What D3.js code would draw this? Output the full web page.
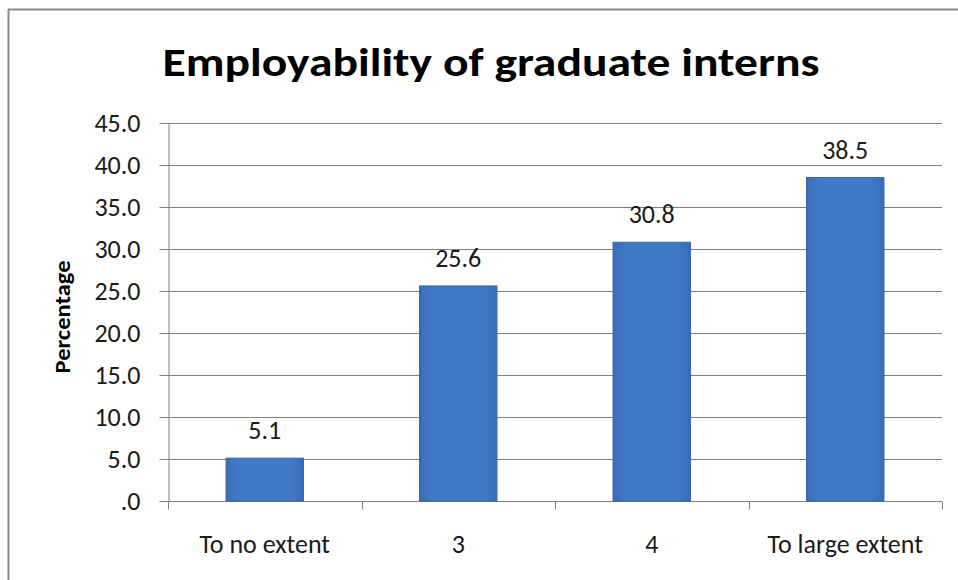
<!DOCTYPE html>
<html><head><meta charset="utf-8">
<script src="https://cdn.jsdelivr.net/npm/d3@7"></script>
<style>body{margin:0;background:#fff}svg{display:block}</style>
</head><body>
<svg id="c" width="958" height="580"></svg>
<script>
const categories = ["To no extent", "3", "4", "To large extent"];
const values = [5.1, 25.6, 30.8, 38.5];
const yTicks = [0, 5, 10, 15, 20, 25, 30, 35, 40, 45];
const title = "Employability of graduate interns";
const yTitle = "Percentage";

const svg = d3.select("#c");
const m = {l:168, r:942, t:123, b:501};
const fontFamily = "Carlito, Calibri, Lato, 'Open Sans', sans-serif";
const fs = 26;

// frame (top and left edges)
svg.append("line").attr("x1",8).attr("x2",958).attr("y1",9.5).attr("y2",9.5).attr("stroke","#8a8a8a").attr("stroke-width",2);
svg.append("line").attr("x1",8.5).attr("x2",8.5).attr("y1",9).attr("y2",580).attr("stroke","#8a8a8a").attr("stroke-width",2);

const x = d3.scaleBand().domain(categories).range([m.l, m.r]).paddingInner(0.6).paddingOuter(0.3);
const y = d3.scaleLinear().domain([0,45]).range([m.b, m.t]);

// gridlines
svg.append("g").selectAll("line").data(yTicks.filter(d=>d>0)).join("line")
  .attr("x1",m.l).attr("x2",m.r).attr("y1",d=>Math.round(y(d))+0.5).attr("y2",d=>Math.round(y(d))+0.5)
  .attr("stroke","#7f7f7f").attr("stroke-width",1);

// y axis
const yAxis = d3.axisLeft(y).tickValues(yTicks).tickSize(9).tickSizeOuter(0)
  .tickFormat(d => d===0 ? ".0" : d3.format(".1f")(d));
const gy = svg.append("g").attr("transform",`translate(${m.l+0.5},0)`).call(yAxis);
gy.select(".domain").attr("stroke","#7f7f7f");
gy.selectAll(".tick line").attr("stroke","#7f7f7f");
gy.selectAll(".tick text").attr("font-family",fontFamily).attr("font-size",fs).attr("fill","#1a1a1a").attr("x",-28).attr("dy","0.34em");

// x axis with ticks at category boundaries
const gx = svg.append("g").attr("transform",`translate(0,${m.b+0.5})`);
gx.append("line").attr("x1",m.l).attr("x2",m.r).attr("stroke","#7f7f7f");
const step = x.step();
const bounds = d3.range(categories.length+1).map(i => m.l + i*step);
gx.selectAll("line.tk").data(bounds).join("line").attr("class","tk")
  .attr("x1",d=>Math.round(d)+0.5).attr("x2",d=>Math.round(d)+0.5).attr("y1",0).attr("y2",8).attr("stroke","#7f7f7f");
gx.selectAll("text").data(categories).join("text")
  .attr("x",d=>x(d)+x.bandwidth()/2).attr("y",51)
  .attr("text-anchor","middle").attr("font-family",fontFamily).attr("font-size",fs).attr("fill","#1a1a1a")
  .text(d=>d);

// bars
const defs = svg.append("defs");
const grad = defs.append("linearGradient").attr("id","bg").attr("x1","0").attr("x2","1").attr("y1","0").attr("y2","0");
grad.append("stop").attr("offset","0").attr("stop-color","#3a6cb8");
grad.append("stop").attr("offset","0.15").attr("stop-color","#4079c6");
grad.append("stop").attr("offset","0.85").attr("stop-color","#4079c6");
grad.append("stop").attr("offset","1").attr("stop-color","#3a6cb8");

svg.append("g").selectAll("rect").data(values).join("rect")
  .attr("x",(d,i)=>x(categories[i])).attr("width",x.bandwidth())
  .attr("y",d=>y(d)).attr("height",d=>y(0)-y(d))
  .attr("fill","url(#bg)").attr("stroke","#3563a8").attr("stroke-width",1);

// data labels
svg.append("g").selectAll("text").data(values).join("text")
  .attr("x",(d,i)=>x(categories[i])+x.bandwidth()/2).attr("y",d=>y(d)-19)
  .attr("text-anchor","middle").attr("font-family",fontFamily).attr("font-size",fs).attr("fill","#1a1a1a")
  .text(d=>d3.format(".1f")(d));

// title
svg.append("text").attr("x",491).attr("y",76).attr("text-anchor","middle")
  .attr("font-family",fontFamily).attr("font-weight","bold").attr("font-size",40).attr("fill","#000")
  .attr("textLength",657).attr("lengthAdjust","spacingAndGlyphs")
  .text(title);

// y title
svg.append("text").attr("transform","translate(70,317) rotate(-90)").attr("text-anchor","middle")
  .attr("font-family",fontFamily).attr("font-weight","bold").attr("font-size",23).attr("fill","#000")
  .attr("textLength",113).attr("lengthAdjust","spacingAndGlyphs")
  .text(yTitle);
</script>
</body></html>
